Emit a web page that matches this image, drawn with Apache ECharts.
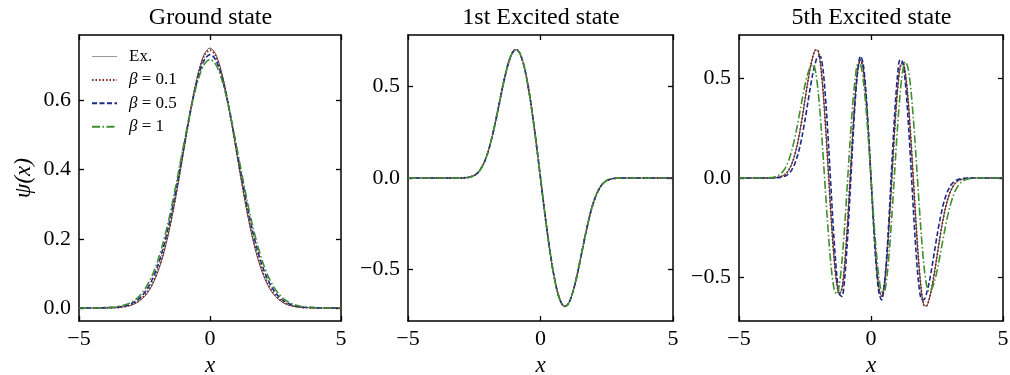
<!DOCTYPE html>
<html><head><meta charset="utf-8">
<script src="https://cdn.jsdelivr.net/npm/echarts@6/dist/echarts.min.js"></script>
<style>html,body{margin:0;padding:0;background:#fff}#c{width:1010px;height:375px}</style>
</head><body><div id="c"></div>
<script>
// ---------- data ----------
const titles = ['Ground state', '1st Excited state', '5th Excited state'];
const seriesNames = ['Ex.', 'β = 0.1', 'β = 0.5', 'β = 1'];
const xTickValues = [-5, 0, 5];
const yTickValues1 = [0, 0.2, 0.4, 0.6];
const yTickValues2 = [-0.5, 0, 0.5];
const yTickValues3 = [-0.5, 0, 0.5];

// Panel 1: ground state
const xs1 = [-5,-4.8,-4.6,-4.4,-4.2,-4,-3.8,-3.6,-3.4,-3.2,-3,-2.8,-2.6,-2.4,-2.2,-2,-1.8,-1.6,-1.4,-1.2,-1,-0.8,-0.6,-0.4,-0.2,0,0.2,0.4,0.6,0.8,1,1.2,1.4,1.6,1.8,2,2.2,2.4,2.6,2.8,3,3.2,3.4,3.6,3.8,4,4.2,4.4,4.6,4.8,5];
const p1Ex  = [0,0,0,0,0,0,0.001,0.001,0.002,0.005,0.008,0.015,0.026,0.042,0.067,0.102,0.149,0.209,0.282,0.366,0.456,0.545,0.627,0.693,0.736,0.751,0.736,0.693,0.627,0.545,0.456,0.366,0.282,0.209,0.149,0.102,0.067,0.042,0.026,0.015,0.008,0.005,0.002,0.001,0.001,0,0,0,0,0,0];
const p1B01 = [0,0,0,0,0,0,0.001,0.001,0.003,0.005,0.010,0.017,0.028,0.046,0.071,0.107,0.155,0.216,0.288,0.371,0.459,0.546,0.626,0.689,0.731,0.745,0.731,0.689,0.626,0.546,0.459,0.371,0.288,0.216,0.155,0.107,0.071,0.046,0.028,0.017,0.010,0.005,0.003,0.001,0.001,0,0,0,0,0,0];
const p1B05 = [0,0,0,0,0,0.001,0.001,0.002,0.004,0.007,0.013,0.021,0.035,0.055,0.083,0.121,0.170,0.231,0.303,0.383,0.466,0.549,0.622,0.681,0.719,0.732,0.719,0.681,0.622,0.549,0.466,0.383,0.303,0.231,0.170,0.121,0.083,0.055,0.035,0.021,0.013,0.007,0.004,0.002,0.001,0.001,0,0,0,0,0];
const p1B1  = [0,0,0,0,0,0.001,0.002,0.003,0.006,0.010,0.017,0.027,0.043,0.065,0.095,0.135,0.186,0.246,0.317,0.394,0.473,0.550,0.618,0.672,0.706,0.718,0.706,0.672,0.618,0.550,0.473,0.394,0.317,0.246,0.186,0.135,0.095,0.065,0.043,0.027,0.017,0.010,0.006,0.003,0.002,0.001,0,0,0,0,0];

// Panel 2: 1st excited state (all four curves coincide)
const xs2 = [-5,-4.5,-4,-3.5,-3,-2.9,-2.8,-2.7,-2.6,-2.5,-2.4,-2.3,-2.2,-2.1,-2,-1.9,-1.8,-1.7,-1.6,-1.5,-1.4,-1.3,-1.2,-1.1,-1,-0.9,-0.8,-0.7,-0.6,-0.5,-0.4,-0.3,-0.2,-0.1,0,0.1,0.2,0.3,0.4,0.5,0.6,0.7,0.8,0.9,1,1.1,1.2,1.3,1.4,1.5,1.6,1.7,1.8,1.9,2,2.1,2.2,2.3,2.4,2.5,2.6,2.7,2.8,2.9,3,3.5,4,4.5,5];
const p2Psi = [0,0,0,0,0,0.001,0.002,0.004,0.008,0.014,0.024,0.040,0.063,0.093,0.133,0.182,0.241,0.306,0.376,0.447,0.517,0.579,0.632,0.672,0.695,0.700,0.685,0.651,0.598,0.527,0.442,0.343,0.234,0.119,0,-0.119,-0.234,-0.343,-0.442,-0.527,-0.598,-0.651,-0.685,-0.700,-0.695,-0.672,-0.632,-0.579,-0.517,-0.447,-0.376,-0.306,-0.241,-0.182,-0.133,-0.093,-0.063,-0.040,-0.024,-0.014,-0.008,-0.004,-0.002,-0.001,0,0,0,0,0];

// Panel 3: 5th excited state
const xs3 = [-5,-4.5,-4,-3.9,-3.8,-3.7,-3.6,-3.5,-3.4,-3.3,-3.2,-3.1,-3,-2.9,-2.8,-2.7,-2.6,-2.5,-2.4,-2.3,-2.2,-2.1,-2,-1.9,-1.8,-1.7,-1.6,-1.5,-1.4,-1.3,-1.2,-1.1,-1,-0.9,-0.8,-0.7,-0.6,-0.5,-0.4,-0.3,-0.2,-0.1,0,0.1,0.2,0.3,0.4,0.5,0.6,0.7,0.8,0.9,1,1.1,1.2,1.3,1.4,1.5,1.6,1.7,1.8,1.9,2,2.1,2.2,2.3,2.4,2.5,2.6,2.7,2.8,2.9,3,3.1,3.2,3.3,3.4,3.5,3.6,3.7,3.8,3.9,4,4.5,5];
const p3Ex  = [0,0,0,0,0,0.001,0.002,0.004,0.008,0.014,0.025,0.044,0.071,0.110,0.163,0.230,0.308,0.394,0.479,0.555,0.612,0.644,0.640,0.559,0.412,0.217,-0.002,-0.218,-0.401,-0.528,-0.583,-0.556,-0.438,-0.251,-0.025,0.207,0.407,0.544,0.595,0.553,0.425,0.230,0,-0.230,-0.425,-0.553,-0.595,-0.544,-0.407,-0.207,0.025,0.251,0.438,0.556,0.583,0.528,0.401,0.218,0.002,-0.217,-0.412,-0.559,-0.640,-0.644,-0.612,-0.555,-0.479,-0.394,-0.308,-0.230,-0.163,-0.110,-0.071,-0.044,-0.025,-0.014,-0.008,-0.004,-0.002,-0.001,0,0,0,0,0];
const p3B01 = [0,0,0,0,0,0.001,0.002,0.004,0.008,0.014,0.025,0.044,0.071,0.110,0.163,0.230,0.308,0.394,0.479,0.555,0.612,0.644,0.640,0.559,0.412,0.217,-0.002,-0.218,-0.401,-0.528,-0.583,-0.556,-0.438,-0.251,-0.025,0.207,0.407,0.544,0.595,0.553,0.425,0.230,0,-0.230,-0.425,-0.553,-0.595,-0.544,-0.407,-0.207,0.025,0.251,0.438,0.556,0.583,0.528,0.401,0.218,0.002,-0.217,-0.412,-0.559,-0.640,-0.644,-0.612,-0.555,-0.479,-0.394,-0.308,-0.230,-0.163,-0.110,-0.071,-0.044,-0.025,-0.014,-0.008,-0.004,-0.002,-0.001,0,0,0,0,0];
const p3B05 = [0,0,0,0,0,0,0.001,0.002,0.004,0.007,0.013,0.024,0.041,0.067,0.104,0.154,0.218,0.292,0.373,0.455,0.528,0.583,0.613,0.609,0.525,0.361,0.148,-0.087,-0.308,-0.482,-0.584,-0.596,-0.509,-0.330,-0.096,0.157,0.385,0.546,0.614,0.578,0.448,0.244,0,-0.244,-0.448,-0.578,-0.614,-0.546,-0.385,-0.157,0.096,0.330,0.509,0.596,0.584,0.482,0.308,0.087,-0.148,-0.361,-0.525,-0.609,-0.613,-0.583,-0.528,-0.455,-0.373,-0.292,-0.218,-0.154,-0.104,-0.067,-0.041,-0.024,-0.013,-0.007,-0.004,-0.002,-0.001,0,0,0,0,0,0];
const p3B1  = [0,0,0,0.001,0.002,0.004,0.008,0.014,0.024,0.039,0.062,0.095,0.139,0.193,0.258,0.329,0.401,0.469,0.523,0.559,0.572,0.536,0.434,0.277,0.085,-0.118,-0.307,-0.460,-0.556,-0.585,-0.538,-0.420,-0.246,-0.040,0.171,0.360,0.499,0.572,0.570,0.499,0.369,0.196,0,-0.196,-0.369,-0.499,-0.570,-0.572,-0.499,-0.360,-0.171,0.040,0.246,0.420,0.538,0.585,0.556,0.460,0.307,0.118,-0.085,-0.277,-0.434,-0.536,-0.572,-0.559,-0.523,-0.469,-0.401,-0.329,-0.258,-0.193,-0.139,-0.095,-0.062,-0.039,-0.024,-0.014,-0.008,-0.004,-0.002,-0.001,0,0,0];

const yRange1 = [-0.0376, 0.7887];
const yRange2 = [-0.78, 0.78];
const yRange3 = [-0.72, 0.72];

// ---------- chart ----------
const FONT = '"Liberation Serif", "DejaVu Serif", serif';
const panels = [
  {xs: xs1, ys: [p1Ex, p1B01, p1B05, p1B1], yr: yRange1, yt: yTickValues1},
  {xs: xs2, ys: [p2Psi, p2Psi, p2Psi, p2Psi], yr: yRange2, yt: yTickValues2},
  {xs: xs3, ys: [p3Ex, p3B01, p3B05, p3B1], yr: yRange3, yt: yTickValues3}
];
const grids = [
  {left: 79, top: 35, width: 262, height: 286},
  {left: 408, top: 35, width: 265, height: 286},
  {left: 739, top: 35, width: 264, height: 286}
];
const styles = [
  {color: '#000000', width: 0.7, type: 'solid'},
  {color: '#8c2318', width: 1.8, type: [1.5, 2]},
  {color: '#1a2a8c', width: 1.6, type: [5, 2.5]},
  {color: '#3f8f2f', width: 1.6, type: [8, 2.5, 1.5, 2.5]}
];
const fmt = (v, d) => (v < 0 ? '\u2212' : '') + Math.abs(v).toFixed(d);
const lineAx = {show: true, onZero: false, lineStyle: {color: '#000', width: 1.5}};
const tickSt = {color: '#000', width: 1.3};

const xAxis = [], yAxis = [], series = [];
panels.forEach((p, i) => {
  xAxis.push({
    type: 'value', gridIndex: i, min: -5, max: 5, position: 'bottom',
    axisLine: lineAx,
    axisTick: {show: true, inside: true, length: 5, lineStyle: tickSt, customValues: xTickValues},
    axisLabel: {show: true, customValues: xTickValues, formatter: v => fmt(v, 0), color: '#000',
      fontFamily: FONT, fontSize: 22, margin: 7, showMinLabel: true, showMaxLabel: true},
    splitLine: {show: false},
    name: 'x', nameLocation: 'middle', nameGap: 31,
    nameTextStyle: {fontFamily: FONT, fontStyle: 'italic', fontSize: 23, color: '#000'}
  });
  xAxis.push({
    type: 'value', gridIndex: i, min: -5, max: 5, position: 'top',
    axisLine: lineAx,
    axisTick: {show: true, inside: true, length: 5, lineStyle: tickSt, customValues: xTickValues},
    axisLabel: {show: false}, splitLine: {show: false}
  });
  const yMain = {
    type: 'value', gridIndex: i, min: p.yr[0], max: p.yr[1], position: 'left',
    axisLine: lineAx,
    axisTick: {show: true, inside: true, length: 5, lineStyle: tickSt, customValues: p.yt},
    axisLabel: {show: true, customValues: p.yt, formatter: v => fmt(v, 1), color: '#000',
      fontFamily: FONT, fontSize: 22, margin: 8},
    splitLine: {show: false}
  };
  if (i === 0) {
    yMain.name = 'ψ(x)';
    yMain.nameLocation = 'middle';
    yMain.nameGap = 44;
    yMain.nameTextStyle = {fontFamily: FONT, fontStyle: 'italic', fontSize: 23, color: '#000'};
  }
  yAxis.push(yMain);
  yAxis.push({
    type: 'value', gridIndex: i, min: p.yr[0], max: p.yr[1], position: 'right',
    axisLine: lineAx,
    axisTick: {show: true, inside: true, length: 5, lineStyle: tickSt, customValues: p.yt},
    axisLabel: {show: false}, splitLine: {show: false}
  });
  p.ys.forEach((ys, k) => {
    series.push({
      type: 'line', name: seriesNames[k], xAxisIndex: 2 * i, yAxisIndex: 2 * i,
      data: p.xs.map((x, j) => [x, ys[j]]),
      symbol: 'none', smooth: 0.3, clip: true,
      lineStyle: {color: styles[k].color, width: styles[k].width, type: styles[k].type},
      itemStyle: {color: styles[k].color},
      z: 2 + k
    });
  });
});

const legendData = seriesNames.map((n, k) => k === 0
  ? {name: n, lineStyle: {color: '#9a9a9a', width: 1, type: 'solid'}}
  : {name: n});

const chart = echarts.init(document.getElementById('c'), null, {renderer: 'canvas'});
chart.setOption({
  animation: false,
  backgroundColor: '#fff',
  grid: grids.map(g => Object.assign({outerBoundsMode: 'none', containLabel: false}, g)),
  title: titles.map((t, i) => ({
    text: t, left: grids[i].left + grids[i].width / 2 - 4.5, top: 1, textAlign: 'center',
    textStyle: {fontFamily: FONT, fontSize: 24, fontWeight: 'normal', color: '#000'}
  })),
  legend: {
    show: true, orient: 'vertical', left: 91, top: 48, padding: 0,
    itemWidth: 25, itemHeight: 16, itemGap: 6.4,
    itemStyle: {opacity: 0, borderWidth: 0},
    data: legendData,
    formatter: n => n.charAt(0) === 'β' ? '{i|β}' + n.slice(1) : n,
    textStyle: {fontFamily: FONT, fontSize: 17, lineHeight: 16, color: '#000', padding: [0, 0, 0, 7],
      rich: {i: {fontFamily: FONT, fontStyle: 'italic', fontSize: 17, lineHeight: 16, color: '#000'}}}
  },
  xAxis: xAxis,
  yAxis: yAxis,
  series: series
});
</script>
</body></html>
